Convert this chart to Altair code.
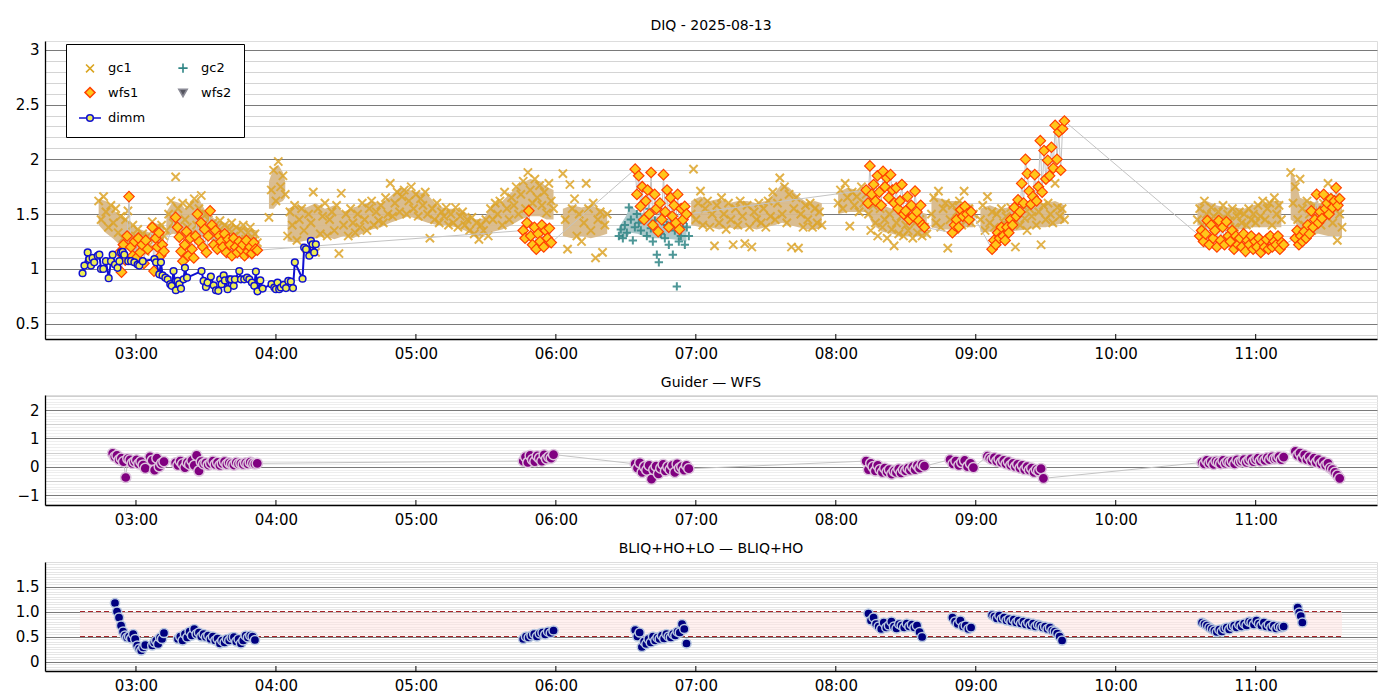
import altair as alt
import pandas as pd

FONT = "DejaVu Sans"

# ---------------- data ----------------
hour_ticks = ["03:00", "04:00", "05:00", "06:00", "07:00", "08:00", "09:00", "10:00", "11:00"]
x_range = ["02:21", "11:52"]

# gc1 guider samples: (start, end, values sampled evenly between start and end)
gc1_segments = [
    ("02:44", "03:06", [1.62, 1.45, 1.66, 1.52, 1.38, 1.58, 1.42, 1.55, 1.33, 1.48, 1.28, 1.45, 1.53, 1.22, 1.4, 1.3, 1.36, 1.2, 1.32, 1.16, 1.3, 1.22]),
    ("03:07", "03:12", [1.43, 1.28, 1.38, 1.25, 1.4, 1.3]),
    ("03:13", "03:30", [1.35, 1.5, 1.62, 1.42, 1.84, 1.55, 1.3, 1.6, 1.45, 1.38, 1.58, 1.32, 1.64, 1.4, 1.55, 1.67, 1.36, 1.5]),
    ("03:31", "03:52", [1.45, 1.3, 1.42, 1.28, 1.38, 1.44, 1.3, 1.4, 1.26, 1.36, 1.42, 1.3, 1.38, 1.25, 1.35, 1.4, 1.27, 1.33, 1.38, 1.25, 1.32, 1.24]),
    ("03:57", "04:04", [1.47, 1.72, 1.9, 1.62, 1.98, 1.75, 1.85, 1.68]),
    ("04:05", "05:59", [1.3, 1.52, 1.4, 1.58, 1.26, 1.45, 1.55, 1.35, 1.19, 1.5,
                        1.42, 1.7, 1.15, 1.55, 1.32, 1.48, 1.6, 1.3, 1.45, 1.52,
                        1.35, 1.58, 1.14, 1.69, 1.4, 1.5, 1.3, 1.55, 1.42, 1.33,
                        1.5, 1.38, 1.6, 1.45, 1.35, 1.55, 1.62, 1.4, 1.52, 1.44,
                        1.58, 1.42, 1.65, 1.5, 1.78, 1.48, 1.6, 1.7, 1.52, 1.66,
                        1.72, 1.5, 1.62, 1.75, 1.55, 1.68, 1.48, 1.64, 1.58, 1.7,
                        1.5, 1.28, 1.55, 1.45, 1.6, 1.42, 1.52, 1.48, 1.56, 1.4,
                        1.5, 1.42, 1.56, 1.38, 1.48, 1.52, 1.4, 1.45, 1.35, 1.47,
                        1.32, 1.42, 1.27, 1.4, 1.35, 1.45, 1.3, 1.55, 1.45, 1.6,
                        1.5, 1.62, 1.4, 1.7, 1.55, 1.45, 1.65, 1.58, 1.75, 1.5,
                        1.68, 1.8, 1.55, 1.88, 1.72, 1.6, 1.82, 1.65, 1.76, 1.58,
                        1.7, 1.51, 1.78, 1.62, 1.55]),
    ("06:03", "06:22", [1.87, 1.45, 1.18, 1.77, 1.55, 1.64, 1.3, 1.5, 1.25, 1.42, 1.78, 1.55, 1.35, 1.6, 1.1, 1.45, 1.52, 1.15, 1.4, 1.5]),
    ("06:58", "07:54", [1.5, 1.91, 1.45, 1.6, 1.71, 1.4, 1.55, 1.62, 1.38, 1.5,
                        1.21, 1.58, 1.42, 1.65, 1.5, 1.36, 1.6, 1.45, 1.22, 1.55,
                        1.4, 1.62, 1.48, 1.23, 1.58, 1.38, 1.2, 1.52, 1.45, 1.6,
                        1.42, 1.55, 1.38, 1.62, 1.48, 1.7, 1.45, 1.6, 1.83, 1.5,
                        1.75, 1.42, 1.68, 1.2, 1.55, 1.65, 1.19, 1.5, 1.38, 1.58,
                        1.45, 1.6, 1.38, 1.55, 1.42, 1.52, 1.4]),
    ("08:01", "08:13", [1.6, 1.72, 1.55, 1.78, 1.65, 1.39, 1.7, 1.58, 1.66, 1.52, 1.75, 1.6, 1.68]),
    ("08:14", "08:39", [1.5, 1.35, 1.58, 1.42, 1.3, 1.55, 1.38, 1.45, 1.28, 1.5, 1.36, 1.21, 1.42, 1.32, 1.48, 1.3, 1.4, 1.35, 1.5, 1.28, 1.42, 1.33, 1.45, 1.3, 1.38, 1.32]),
    ("08:41", "08:59", [1.5, 1.65, 1.42, 1.71, 1.38, 1.55, 1.6, 1.19, 1.45, 1.58, 1.36, 1.52, 1.62, 1.4, 1.71, 1.48, 1.55, 1.42, 1.5]),
    ("09:02", "09:38", [1.45, 1.58, 1.35, 1.66, 1.42, 1.52, 1.38, 1.5, 1.33, 1.55, 1.42, 1.48, 1.36, 1.56, 1.45, 1.2, 1.52, 1.4, 1.58, 1.46,
                        1.35, 1.55, 1.48, 1.62, 1.4, 1.52, 1.22, 1.58, 1.45, 1.6, 1.5, 1.42, 1.78, 1.56, 1.48, 1.55, 1.45]),
    ("10:35", "11:11", [1.45, 1.55, 1.4, 1.62, 1.5, 1.42, 1.56, 1.48, 1.38, 1.52, 1.45, 1.58, 1.4, 1.5, 1.44, 1.55, 1.38, 1.48, 1.52, 1.42,
                        1.5, 1.4, 1.55, 1.45, 1.5, 1.42, 1.58, 1.48, 1.62, 1.45, 1.55, 1.6, 1.4, 1.65, 1.5, 1.58, 1.45]),
    ("11:15", "11:37", [1.88, 1.6, 1.75, 1.45, 1.82, 1.55, 1.4, 1.62, 1.5, 1.35, 1.58, 1.45, 1.52, 1.4, 1.6, 1.48, 1.78, 1.55, 1.42, 1.65, 1.26, 1.5, 1.38]),
]

# dense core of the gc1 cloud: (time, low, high)
gc1_band = [
    [("02:44", 1.40, 1.64), ("02:47", 1.33, 1.62), ("02:50", 1.28, 1.55), ("02:53", 1.22, 1.48), ("02:56", 1.18, 1.45), ("02:59", 1.14, 1.38), ("03:02", 1.12, 1.36), ("03:06", 1.14, 1.33)],
    [("03:07", 1.24, 1.42), ("03:12", 1.24, 1.40)],
    [("03:13", 1.30, 1.52), ("03:16", 1.32, 1.62), ("03:19", 1.30, 1.60), ("03:21", 1.30, 1.55), ("03:24", 1.32, 1.62), ("03:27", 1.30, 1.64), ("03:30", 1.28, 1.52),
     ("03:34", 1.25, 1.45), ("03:38", 1.26, 1.42), ("03:42", 1.24, 1.40), ("03:46", 1.24, 1.38), ("03:49", 1.23, 1.36), ("03:52", 1.24, 1.35)],
    [("03:57", 1.55, 1.80), ("03:59", 1.55, 1.92), ("04:01", 1.60, 1.95), ("04:03", 1.62, 1.88), ("04:04", 1.65, 1.80)],
    [("04:05", 1.25, 1.55), ("04:09", 1.24, 1.58), ("04:13", 1.26, 1.56), ("04:17", 1.28, 1.60), ("04:21", 1.30, 1.55), ("04:25", 1.27, 1.58), ("04:29", 1.30, 1.52),
     ("04:33", 1.28, 1.56), ("04:37", 1.32, 1.58), ("04:41", 1.36, 1.62), ("04:45", 1.38, 1.60), ("04:49", 1.42, 1.66), ("04:53", 1.45, 1.74), ("04:57", 1.48, 1.72),
     ("05:01", 1.45, 1.70), ("05:05", 1.42, 1.68), ("05:09", 1.40, 1.58), ("05:13", 1.40, 1.55), ("05:17", 1.38, 1.55), ("05:21", 1.35, 1.52), ("05:25", 1.30, 1.45),
     ("05:29", 1.30, 1.46), ("05:33", 1.34, 1.58), ("05:37", 1.36, 1.62), ("05:41", 1.40, 1.70), ("05:45", 1.45, 1.78), ("05:49", 1.48, 1.82), ("05:53", 1.48, 1.80),
     ("05:56", 1.45, 1.75), ("05:59", 1.45, 1.72)],
    [("06:03", 1.30, 1.55), ("06:07", 1.28, 1.58), ("06:11", 1.30, 1.56), ("06:15", 1.28, 1.58), ("06:19", 1.30, 1.55), ("06:22", 1.32, 1.52)],
    [("06:58", 1.40, 1.62), ("07:02", 1.38, 1.66), ("07:06", 1.38, 1.62), ("07:10", 1.36, 1.64), ("07:14", 1.38, 1.60), ("07:18", 1.36, 1.62), ("07:22", 1.38, 1.62),
     ("07:26", 1.36, 1.60), ("07:30", 1.38, 1.62), ("07:34", 1.40, 1.70), ("07:37", 1.42, 1.78), ("07:40", 1.40, 1.74), ("07:44", 1.38, 1.66), ("07:48", 1.36, 1.60),
     ("07:51", 1.36, 1.62), ("07:54", 1.38, 1.60)],
    [("08:01", 1.50, 1.70), ("08:05", 1.52, 1.74), ("08:09", 1.52, 1.72), ("08:13", 1.52, 1.72), ("08:16", 1.40, 1.62), ("08:20", 1.34, 1.58), ("08:24", 1.32, 1.55),
     ("08:28", 1.30, 1.52), ("08:32", 1.30, 1.50), ("08:36", 1.30, 1.52), ("08:39", 1.32, 1.50)],
    [("08:41", 1.38, 1.66), ("08:45", 1.36, 1.64), ("08:49", 1.36, 1.62), ("08:53", 1.38, 1.62), ("08:56", 1.38, 1.60), ("08:59", 1.38, 1.58)],
    [("09:02", 1.34, 1.55), ("09:06", 1.34, 1.58), ("09:10", 1.34, 1.55), ("09:14", 1.34, 1.56), ("09:18", 1.35, 1.55), ("09:22", 1.36, 1.58), ("09:26", 1.38, 1.60),
     ("09:30", 1.38, 1.60), ("09:34", 1.40, 1.62), ("09:38", 1.42, 1.58)],
    [("10:35", 1.40, 1.60), ("10:39", 1.38, 1.62), ("10:43", 1.38, 1.58), ("10:47", 1.38, 1.56), ("10:51", 1.36, 1.56), ("10:55", 1.36, 1.55), ("10:59", 1.38, 1.58),
     ("11:03", 1.38, 1.60), ("11:07", 1.38, 1.62), ("11:11", 1.38, 1.62)],
    [("11:15", 1.45, 1.88), ("11:17", 1.42, 1.82), ("11:19", 1.35, 1.65), ("11:23", 1.32, 1.62), ("11:27", 1.32, 1.60), ("11:31", 1.30, 1.62), ("11:35", 1.30, 1.65), ("11:37", 1.30, 1.55)],
]

gc2_segments = [
    ("06:27", "06:57", [1.3, 1.36, 1.28, 1.4, 1.33, 1.56, 1.45, 1.26, 1.38, 1.5, 1.42, 1.35, 1.6, 1.48, 1.3, 1.55, 1.37, 1.25, 1.44, 1.13,
                        1.06, 1.32, 1.5, 1.28, 1.4, 1.22, 1.45, 1.13, 1.35, 0.84, 1.25, 1.3, 1.42, 1.22, 1.38, 1.3]),
]
gc2_band = [
    [("06:27", 1.27, 1.38), ("06:30", 1.28, 1.48), ("06:32", 1.33, 1.58), ("06:35", 1.32, 1.52), ("06:40", 1.28, 1.50), ("06:45", 1.28, 1.46), ("06:50", 1.27, 1.42), ("06:56", 1.25, 1.40)],
]

wfs1_segments = [
    ("02:53", "03:05", [1.15, 0.97, 1.22, 1.08, 1.3, 1.66, 1.2, 1.12, 1.25, 1.1, 1.28, 1.15, 1.22, 1.05, 1.26, 1.18]),
    ("03:07", "03:12", [1.38, 0.98, 1.28, 1.2, 1.33, 1.12, 1.22, 1.16]),
    ("03:17", "03:52", [1.47, 1.38, 1.29, 1.16, 1.07, 1.22, 1.34, 1.12, 1.28, 1.18, 1.1, 1.3, 1.5, 1.25, 1.42, 1.2, 1.36, 1.15, 1.3, 1.53,
                        1.4, 1.22, 1.35, 1.18, 1.3, 1.25, 1.2, 1.32, 1.15, 1.27, 1.22, 1.12, 1.28, 1.2, 1.15, 1.25, 1.18, 1.22, 1.12, 1.26,
                        1.16, 1.2, 1.14, 1.24, 1.18, 1.17]),
    ("05:46", "05:58", [1.35, 1.28, 1.42, 1.53, 1.3, 1.22, 1.38, 1.18, 1.32, 1.25, 1.4, 1.2, 1.35, 1.28, 1.37, 1.24]),
    ("06:34", "06:56", [1.91, 1.68, 1.85, 1.57, 1.75, 1.45, 1.62, 1.72, 1.5, 1.88, 1.4, 1.68, 1.55, 1.34, 1.6, 1.45, 1.86, 1.52, 1.72, 1.38,
                        1.65, 1.48, 1.58, 1.42, 1.68, 1.36, 1.55, 1.45, 1.57, 1.5]),
    ("08:13", "08:38", [1.72, 1.6, 1.94, 1.68, 1.77, 1.62, 1.85, 1.7, 1.58, 1.89, 1.75, 1.83, 1.65, 1.86, 1.72, 1.6, 1.74, 1.55, 1.62, 1.77,
                        1.5, 1.53, 1.66, 1.45, 1.58, 1.48, 1.71, 1.52, 1.44, 1.58, 1.4, 1.38]),
    ("08:50", "08:58", [1.33, 1.4, 1.45, 1.38, 1.54, 1.48, 1.57, 1.5, 1.45, 1.52]),
    ("09:07", "09:38", [1.18, 1.26, 1.22, 1.33, 1.28, 1.38, 1.3, 1.26, 1.38, 1.33, 1.45, 1.4, 1.56, 1.48, 1.63, 1.52, 1.78, 1.6, 2.0, 1.87,
                        1.71, 1.59, 1.66, 1.86, 1.62, 1.75, 2.17, 1.7, 2.08, 1.82, 1.99, 1.85, 2.11, 1.92, 2.31, 2.0, 2.25, 1.9, 2.28, 2.35]),
    ("10:36", "11:12", [1.3, 1.35, 1.25, 1.32, 1.44, 1.22, 1.4, 1.28, 1.35, 1.2, 1.44, 1.26, 1.38, 1.22, 1.43, 1.3, 1.25, 1.35, 1.18, 1.3,
                        1.22, 1.28, 1.2, 1.32, 1.16, 1.26, 1.22, 1.3, 1.18, 1.25, 1.2, 1.28, 1.15, 1.24, 1.2, 1.27, 1.18, 1.3, 1.2, 1.25,
                        1.22, 1.3, 1.18, 1.24, 1.22]),
    ("11:17", "11:36", [1.28, 1.35, 1.22, 1.3, 1.25, 1.34, 1.28, 1.4, 1.32, 1.53, 1.38, 1.45, 1.68, 1.42, 1.52, 1.46, 1.68, 1.55, 1.6, 1.5,
                        1.64, 1.56, 1.62, 1.74, 1.58, 1.64]),
]

# DIMM seeing: minutes after 02:00 and value
dimm_t = [37.1, 37.9, 39.3, 40.0, 40.7, 41.4, 42.1, 43.6, 44.3, 45.0, 46.0, 47.1, 48.3, 49.3, 50.0, 51.0, 52.1, 52.9, 53.6, 54.3,
          55.0, 56.7, 57.9, 59.3, 60.7, 61.4, 62.9, 67.9, 68.6, 70.0, 70.7, 71.4, 72.6, 73.6, 74.7, 75.3, 76.1, 77.1, 77.9, 78.6,
          79.3, 80.4, 81.0, 81.9, 88.1, 89.0, 90.0, 90.7, 92.1, 93.3, 94.3, 95.3, 96.1, 96.7, 97.6, 98.1, 99.3, 100.0, 100.7, 101.9,
          102.4, 104.3, 105.0, 106.4, 107.6, 108.6, 109.7, 110.7, 111.4, 112.1, 113.3, 114.3, 118.1, 119.3, 120.0, 120.7, 121.4, 122.1, 123.3, 124.3,
          125.3, 126.4, 127.3, 128.1, 131.4, 132.1, 132.9, 134.3, 135.0, 135.7, 136.4, 137.1]
dimm_v = [0.96, 1.03, 1.15, 1.09, 1.03, 1.10, 1.06, 1.12, 1.13, 1.00, 1.00, 1.07, 0.915, 1.07, 1.13, 1.04, 1.01, 1.07, 1.15, 1.155,
          1.13, 1.07, 1.07, 1.06, 1.04, 1.03, 1.07, 1.09, 1.06, 0.95, 1.06, 0.94, 0.92, 0.905, 0.86, 0.845, 0.98, 0.805, 0.89, 0.86,
          0.82, 0.905, 1.01, 0.92, 0.98, 0.89, 0.835, 0.875, 0.93, 0.85, 0.805, 0.80, 0.905, 0.86, 0.94, 0.895, 0.815, 0.905, 0.905, 0.845,
          0.905, 0.98, 0.905, 0.905, 0.92, 0.905, 0.875, 0.845, 0.975, 0.795, 0.895, 0.82, 0.86, 0.83, 0.815, 0.875, 0.815, 0.83, 0.855, 0.825,
          0.89, 0.885, 0.825, 1.06, 0.91, 1.195, 1.18, 1.12, 1.255, 1.225, 1.15, 1.225]

guider_wfs_segments = [
    ("02:50", "03:04", [0.47, 0.35, 0.4, 0.24, 0.3, 0.18, -0.38, 0.29, 0.24, 0.12, 0.18, 0.24, 0.1, 0.18, 0.06, -0.06]),
    ("03:06", "03:12", [0.35, 0.22, -0.12, 0.3, 0.0, 0.12, 0.18]),
    ("03:17", "03:52", [0.14, 0.05, 0.2, 0.1, -0.03, 0.15, 0.08, 0.22, 0.05, 0.4, -0.15, 0.18, 0.1, 0.14, 0.06, 0.12, 0.2, 0.08, 0.15, 0.05,
                        0.12, 0.18, 0.08, 0.14, 0.1, 0.06, 0.15, 0.1, 0.12, 0.08, 0.14, 0.1, 0.16, 0.12, 0.1, 0.12]),
    ("05:46", "05:59", [0.2, 0.35, 0.15, 0.4, 0.25, 0.18, 0.38, 0.3, 0.2, 0.42, 0.28, 0.35, 0.3, 0.43]),
    ("06:34", "06:57", [0.1, -0.05, 0.14, -0.2, 0.0, -0.12, 0.05, -0.44, -0.1, 0.02, -0.25, -0.05, 0.08, -0.15, 0.0, -0.1, 0.05, -0.2, 0.1, -0.05,
                        0.0, -0.12, 0.05, -0.07]),
    ("08:13", "08:38", [0.2, -0.1, 0.12, 0.0, -0.15, 0.05, -0.1, -0.2, -0.05, -0.18, -0.1, -0.26, -0.15, -0.2, -0.08, -0.22, -0.1, -0.15, -0.05, -0.12,
                        0.0, -0.1, 0.05, -0.05, 0.08, 0.02]),
    ("08:49", "08:59", [0.25, 0.1, 0.2, 0.05, 0.15, 0.22, 0.0, 0.12, -0.03]),
    ("09:05", "09:29", [0.37, 0.3, 0.25, 0.32, 0.2, 0.28, 0.15, 0.22, 0.1, 0.18, 0.05, 0.12, 0.0, 0.08, -0.05, 0.05, -0.1, 0.0, -0.12, -0.05,
                        -0.2, -0.1, -0.15, -0.07, -0.41]),
    ("10:37", "11:12", [0.15, 0.1, 0.22, 0.12, 0.18, 0.08, 0.2, 0.15, 0.1, 0.22, 0.12, 0.18, 0.14, 0.2, 0.1, 0.24, 0.16, 0.2, 0.25, 0.15,
                        0.22, 0.28, 0.18, 0.25, 0.3, 0.2, 0.28, 0.22, 0.32, 0.25, 0.35, 0.28, 0.3, 0.36, 0.25, 0.34]),
    ("11:17", "11:36", [0.54, 0.4, 0.48, 0.3, 0.42, 0.25, 0.35, 0.2, 0.3, 0.15, 0.25, 0.1, 0.18, 0.05, 0.12, -0.05, -0.1, -0.2, -0.3, -0.41]),
]

bliq_segments = [
    ("02:51", "03:04", [1.17, 1.0, 0.88, 0.72, 0.6, 0.52, 0.48, 0.5, 0.46, 0.55, 0.45, 0.32, 0.26, 0.22, 0.28, 0.33]),
    ("03:07", "03:12", [0.32, 0.38, 0.42, 0.35, 0.48, 0.45, 0.57]),
    ("03:18", "03:51", [0.45, 0.5, 0.42, 0.55, 0.48, 0.6, 0.52, 0.65, 0.55, 0.58, 0.5, 0.55, 0.49, 0.52, 0.45, 0.5, 0.42, 0.46, 0.36, 0.42,
                        0.38, 0.45, 0.42, 0.48, 0.49, 0.4, 0.45, 0.36, 0.42, 0.52, 0.48, 0.52, 0.5, 0.43]),
    ("05:46", "05:59", [0.45, 0.5, 0.48, 0.52, 0.55, 0.5, 0.56, 0.58, 0.54, 0.6, 0.57, 0.62]),
    ("06:34", "06:56", [0.63, 0.5, 0.58, 0.29, 0.4, 0.35, 0.45, 0.38, 0.5, 0.42, 0.48, 0.45, 0.52, 0.46, 0.55, 0.5, 0.48, 0.55, 0.52, 0.6,
                        0.58, 0.75, 0.65, 0.36]),
    ("08:14", "08:37", [0.96, 0.82, 0.88, 0.75, 0.7, 0.65, 0.78, 0.68, 0.72, 0.8, 0.7, 0.66, 0.75, 0.72, 0.68, 0.76, 0.7, 0.74, 0.68, 0.72, 0.59, 0.49]),
    ("08:50", "08:58", [0.88, 0.8, 0.75, 0.82, 0.7, 0.72, 0.65, 0.68]),
    ("09:07", "09:37", [0.93, 0.9, 0.86, 0.92, 0.85, 0.88, 0.82, 0.85, 0.8, 0.84, 0.78, 0.82, 0.76, 0.8, 0.74, 0.78, 0.72, 0.76, 0.7, 0.74,
                        0.72, 0.68, 0.7, 0.65, 0.68, 0.62, 0.6, 0.56, 0.5, 0.42]),
    ("10:37", "11:12", [0.78, 0.75, 0.72, 0.68, 0.65, 0.62, 0.59, 0.64, 0.6, 0.66, 0.68, 0.64, 0.7, 0.72, 0.68, 0.74, 0.7, 0.76, 0.72, 0.8,
                        0.78, 0.74, 0.82, 0.76, 0.72, 0.78, 0.7, 0.74, 0.68, 0.72, 0.66, 0.7, 0.68, 0.7]),
    ("11:18", "11:20", [1.08, 0.98, 0.91, 0.78]),
]
bliq_limits = [0.5, 1.0]
bliq_span = ["02:36", "11:37"]

# legend entries in column order (column 1: gc1, wfs1, dimm; column 2: gc2, wfs2)
legend_names = ["gc1", "wfs1", "dimm", "gc2", "wfs2"]
legend_fill = ["transparent", "#FFC61A", "#EEEE55", "transparent", "#55555f"]
legend_stroke = ["#DAA520", "#FF4000", "#1010D0", "#2F8585", "#8a8a95"]
legend_paths = [
    "M-0.36,-0.36L0.36,0.36M-0.36,0.36L0.36,-0.36",
    "M0,-0.45L0.45,0L0,0.45L-0.45,0Z",
    "M-1,0H-0.3M0.3,0H1M-0.3,0A0.3,0.3 0 1,0 0.3,0A0.3,0.3 0 1,0 -0.3,0Z",
    "M-0.42,0H0.42M0,-0.42V0.42",
    "M-0.38,-0.3L0.38,-0.3L0,0.38Z",
]


# ---------------- helpers ----------------
def hm(s):
    h, m = s.split(":")
    return int(h) * 60 + float(m)


def from_segments(segs):
    rows = []
    for k, (a, b, vals) in enumerate(segs):
        t0, t1 = hm(a), hm(b)
        n = len(vals)
        for i, v in enumerate(vals):
            rows.append({"t": t0 + (t1 - t0) * i / max(n - 1, 1), "v": v, "seg": k})
    return pd.DataFrame(rows)


def band_frame(bands):
    rows = []
    for k, seg in enumerate(bands):
        for a, lo, hi in seg:
            rows.append({"t": hm(a), "lo": lo, "hi": hi, "seg": k})
    return pd.DataFrame(rows)


gc1_df = from_segments(gc1_segments)
gc1_band_df = band_frame(gc1_band)
gc2_df = from_segments(gc2_segments)
gc2_band_df = band_frame(gc2_band)
wfs1_df = from_segments(wfs1_segments)
dimm_df = pd.DataFrame({"t": [120 + t for t in dimm_t], "v": dimm_v})
mid_df = from_segments(guider_wfs_segments)
bot_df = from_segments(bliq_segments)
ticks_df = pd.DataFrame({"t": [hm(h) for h in hour_ticks]})
legend_df = pd.DataFrame({"series": legend_names})
span_df = pd.DataFrame({"t0": [hm(bliq_span[0])], "t1": [hm(bliq_span[1])], "lo": [bliq_limits[0]], "hi": [bliq_limits[1]]})
limit_df = pd.DataFrame({"t0": [hm(bliq_span[0])] * 2, "t1": [hm(bliq_span[1])] * 2, "v": bliq_limits})

W = 1332
H_TOP, H_MID, H_BOT = 298, 110, 109

xscale = alt.Scale(domain=[hm(x_range[0]), hm(x_range[1])], nice=False, zero=False)
xaxis = alt.Axis(
    values=[hm(h) for h in hour_ticks],
    labelExpr="(datum.value < 600 ? '0' : '') + floor(datum.value / 60) + ':00'",
    title=None, grid=False, ticks=False, domainColor="black", domainWidth=1.3,
    labelFontSize=15, labelFont=FONT, labelColor="black", labelPadding=7, labelOverlap=False,
)


def X(field="t"):
    return alt.X(f"{field}:Q", scale=xscale, axis=xaxis)


def yaxis(values, grid_color, major_test, label_expr):
    return alt.Axis(
        values=values, title=None, ticks=False, grid=True, gridColor=grid_color, gridWidth=1,
        labelExpr=label_expr, labelOverlap=False,
        labelFontSize={"condition": {"test": major_test, "value": 15}, "value": 0},
        labelFont=FONT, labelColor="black",
        labelPadding=6, domainColor="black", domainWidth=1.3, minExtent=31, maxExtent=31,
    )


HALF = "abs(datum.value * 2 - round(datum.value * 2)) < 0.001"
WHOLE = "abs(datum.value - round(datum.value)) < 0.001"

top_axis = yaxis(
    [round(0.4 + 0.1 * i, 2) for i in range(27)],
    {"condition": {"test": HALF, "value": "#7a7a7a"}, "value": "#d4d4d4"},
    HALF,
    f"{HALF} ? format(datum.value, '.1~f') : ''",
)
mid_axis = yaxis(
    [round(-1.3 + 0.1 * i, 2) for i in range(39)],
    {"condition": [{"test": WHOLE, "value": "#7a7a7a"}, {"test": HALF, "value": "#cfcfcf"}], "value": "#eeeeee"},
    WHOLE,
    f"{WHOLE} ? format(datum.value, 'd') : ''",
)
bot_axis = yaxis(
    [round(-0.15 + 0.05 * i, 2) for i in range(43)],
    {"condition": {"test": HALF, "value": "#7a7a7a"}, "value": "#e6e6e6"},
    HALF,
    f"{HALF} ? (abs(datum.value) < 0.001 ? '0' : format(datum.value, '.1f')) : ''",
)

ys_top = alt.Scale(domain=[0.36, 3.08], nice=False, zero=False)
ys_mid = alt.Scale(domain=[-1.35, 2.53], nice=False, zero=False)
ys_bot = alt.Scale(domain=[-0.19, 1.99], nice=False, zero=False)


def Yt(f="v"):
    return alt.Y(f"{f}:Q", scale=ys_top, axis=top_axis)


def Ym(f="v"):
    return alt.Y(f"{f}:Q", scale=ys_mid, axis=mid_axis)


def Yb(f="v"):
    return alt.Y(f"{f}:Q", scale=ys_bot, axis=bot_axis)


XPATH = "M-1,-1L1,1M-1,1L1,-1"
PPATH = "M-1,0H1M0,-1V1"

LEG = alt.Legend(
    orient="none", legendX=21, legendY=3, columns=2, title=None,
    strokeColor="black", fillColor="white", padding=12, cornerRadius=0,
    symbolSize=484, symbolStrokeWidth=1.6, symbolOpacity=1,
    labelFontSize=13, labelFont=FONT, labelColor="black", labelOffset=6,
    columnPadding=25, rowPadding=4.5,
)


def ticks_layer(h):
    return alt.Chart(ticks_df).mark_rule(color="black", strokeWidth=1).encode(
        x=X(), y=alt.value(h - 5), y2=alt.value(h)
    )


def title(text, off):
    return alt.TitleParams(text, fontSize=14, font=FONT, fontWeight="normal", color="black", offset=off)


# ---------------- top panel ----------------
top = alt.layer(
    alt.Chart(gc1_band_df).mark_area(color="#D8B98A", opacity=0.95, clip=True).encode(x=X(), y=Yt("lo"), y2="hi:Q", detail="seg:N"),
    alt.Chart(gc1_df).mark_point(shape=XPATH, filled=False, color="#DDA52A", strokeWidth=2, size=68, opacity=0.85, clip=True).encode(x=X(), y=Yt()),
    alt.Chart(gc2_band_df).mark_area(color="#A6C5C7", opacity=0.95, clip=True).encode(x=X(), y=Yt("lo"), y2="hi:Q", detail="seg:N"),
    alt.Chart(gc2_df).mark_point(shape=PPATH, filled=False, color="#2F8585", strokeWidth=2, size=70, opacity=0.85, clip=True).encode(x=X(), y=Yt()),
    alt.Chart(wfs1_df).mark_line(color="#c4c4c4", strokeWidth=1, clip=True).encode(x=X(), y=Yt()),
    alt.Chart(wfs1_df).mark_point(shape="diamond", filled=True, fill="#FFC61A", stroke="#FF4000", strokeWidth=1.2, size=110, opacity=1, clip=True).encode(x=X(), y=Yt()),
    alt.Chart(dimm_df).mark_line(color="#1010D0", strokeWidth=2, clip=True).encode(x=X(), y=Yt()),
    alt.Chart(dimm_df).mark_point(shape="circle", filled=True, fill="#EEEE55", stroke="#1010D0", strokeWidth=1.5, size=45, opacity=1, clip=True).encode(x=X(), y=Yt()),
    ticks_layer(H_TOP),
    alt.Chart(legend_df).mark_point(filled=True, opacity=0, size=484).encode(
        shape=alt.Shape("series:N", scale=alt.Scale(domain=legend_names, range=legend_paths), legend=LEG),
        fill=alt.Fill("series:N", scale=alt.Scale(domain=legend_names, range=legend_fill), legend=LEG),
        stroke=alt.Stroke("series:N", scale=alt.Scale(domain=legend_names, range=legend_stroke), legend=LEG),
    ),
).properties(width=W, height=H_TOP, title=title("DIQ - 2025-08-13", 8))

# ---------------- middle panel ----------------
mid = alt.layer(
    alt.Chart(mid_df).mark_line(color="#c4c4c4", strokeWidth=1, clip=True).encode(x=X(), y=Ym()),
    alt.Chart(mid_df).mark_point(shape="circle", filled=True, fill="#800080", stroke="#DCC3DC", strokeWidth=1.5, size=105, opacity=1, clip=True).encode(x=X(), y=Ym()),
    ticks_layer(H_MID),
).properties(width=W, height=H_MID, title=title("Guider — WFS", 5))

# ---------------- bottom panel ----------------
bot = alt.layer(
    alt.Chart(span_df).mark_rect(color="#FFE4E1", opacity=0.55).encode(x=X("t0"), x2="t1:Q", y=Yb("lo"), y2="hi:Q"),
    alt.Chart(limit_df).mark_rule(color="#A52228", strokeDash=[5, 3], strokeWidth=1.2).encode(x=X("t0"), x2="t1:Q", y=Yb("v")),
    alt.Chart(bot_df).mark_point(shape="circle", filled=True, fill="#000080", stroke="#B8C8E0", strokeWidth=1.5, size=85, opacity=1, clip=True).encode(x=X(), y=Yb()),
    ticks_layer(H_BOT),
).properties(width=W, height=H_BOT, title=title("BLIQ+HO+LO — BLIQ+HO", 6))

chart = (
    alt.vconcat(top, mid, bot, spacing=13)
    .resolve_scale(shape="independent", fill="independent", stroke="independent")
    .properties(padding={"left": 5, "top": 10, "right": 5, "bottom": 5})
    .configure_view(stroke=None)
    .configure(background="white")
)

chart.save("out.html", embed_options={"renderer": "svg", "actions": False})
